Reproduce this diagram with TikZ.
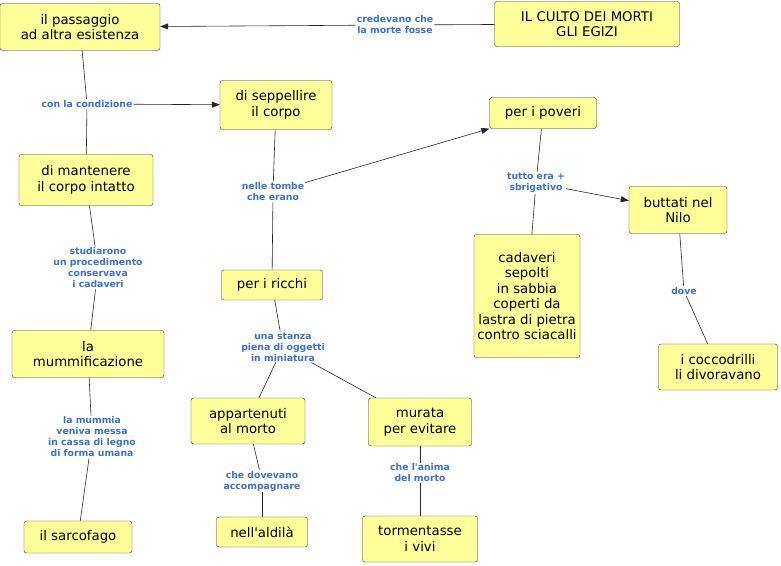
\documentclass[tikz,border=0pt]{standalone}
\usepackage{fontspec}
\setmainfont{DejaVu Sans}
\usetikzlibrary{arrows.meta}
\definecolor{boxfill}{HTML}{FFFF99}
\definecolor{lblue}{HTML}{3C6FD6}
\begin{document}
\begin{tikzpicture}[x=1pt,y=-1pt,
  box/.style={draw=black!80,fill=boxfill,rounded corners=2.5pt,align=center,font=\fontsize{13.3}{15.5}\selectfont,inner sep=0pt},
  lbl/.style={text=lblue,align=center,font=\bfseries\fontsize{9.3}{11}\selectfont,inner sep=1pt},
  ln/.style={draw=black!85,line width=0.6pt},
  ar/.style={ln,-{Triangle[length=8pt,width=6pt]}}]
\useasboundingbox (0,0) rectangle (781,565);
\node[box,minimum width=160,minimum height=47] (pass) at (80,27) {il passaggio\\ad altra esistenza};
\node[box,minimum width=185,minimum height=45] (culto) at (587,24) {IL CULTO DEI MORTI\\GLI EGIZI};
\node[lbl] (cred) at (395,25) {credevano che\\la morte fosse};
\node[box,minimum width=112,minimum height=49] (sepp) at (276,105) {di seppellire\\il corpo};
\node[lbl] (cond) at (87,104) {con la condizione};
\node[box,minimum width=134,minimum height=51] (mant) at (86,180) {di mantenere\\il corpo intatto};
\node[lbl] (stud) at (98,268) {studiarono\\un procedimento\\conservava\\i cadaveri};
\node[box,minimum width=152,minimum height=47] (mumm) at (88,354) {la\\mummificazione};
\node[lbl] (mumlab) at (92,437) {la mummia\\veniva messa\\in cassa di legno\\di forma umana};
\node[box,minimum width=108,minimum height=32] (sarc) at (78,537) {il sarcofago};
\node[lbl] (tombe) at (273,192) {nelle tombe\\che erano};
\node[box,minimum width=101,minimum height=30] (ricchi) at (272,285) {per i ricchi};
\node[lbl] (stanza) at (283,347) {una stanza\\piena di oggetti\\in miniatura};
\node[box,minimum width=114,minimum height=46] (appa) at (248,421) {appartenuti\\al morto};
\node[box,minimum width=103,minimum height=48] (mura) at (420,422) {murata\\per evitare};
\node[lbl] (dov) at (262,481) {che dovevano\\accompagnare};
\node[box,minimum width=91,minimum height=30] (ald) at (262,532) {nell\textquotesingle aldilà};
\node[lbl] (anima) at (420,473) {che l\textquotesingle anima\\del morto};
\node[box,minimum width=115,minimum height=46] (torm) at (420,539) {tormentasse\\i vivi};
\node[box,minimum width=107,minimum height=31] (pov) at (543,113) {per i poveri};
\node[lbl] (tutto) at (536,183) {tutto era +\\sbrigativo};
\node[box,minimum width=98,minimum height=47] (butt) at (678,210) {buttati nel\\Nilo};
\node[box,minimum width=106,minimum height=123] (cad) at (527,296) {cadaveri\\ sepolti\\in sabbia\\coperti da\\lastra di pietra\\contro sciacalli};
\node[lbl] (dove) at (684,291) {dove};
\node[box,minimum width=119,minimum height=46] (cocc) at (718,367) {i coccodrilli\\li divoravano};
\draw[ln] (culto) -- (cred); \draw[ar] (cred) -- (pass);
\draw[ln] (pass) -- (cond); \draw[ar] (cond) -- (sepp);
\draw[ln] (cond) -- (mant);
\draw[ln] (mant) -- (stud); \draw[ln] (stud) -- (mumm);
\draw[ln] (mumm) -- (mumlab); \draw[ln] (mumlab) -- (sarc);
\draw[ln] (sepp) -- (tombe); \draw[ln] (tombe) -- (ricchi); \draw[ar] (tombe) -- (pov);
\draw[ln] (ricchi) -- (stanza); \draw[ln] (stanza) -- (appa); \draw[ln] (stanza) -- (mura);
\draw[ln] (appa) -- (dov); \draw[ln] (dov) -- (ald);
\draw[ln] (mura) -- (anima); \draw[ln] (anima) -- (torm);
\draw[ln] (pov) -- (tutto); \draw[ln] (tutto) -- (cad); \draw[ar] (tutto) -- (butt);
\draw[ln] (butt) -- (dove); \draw[ln] (dove) -- (cocc);
\end{tikzpicture}
\end{document}
